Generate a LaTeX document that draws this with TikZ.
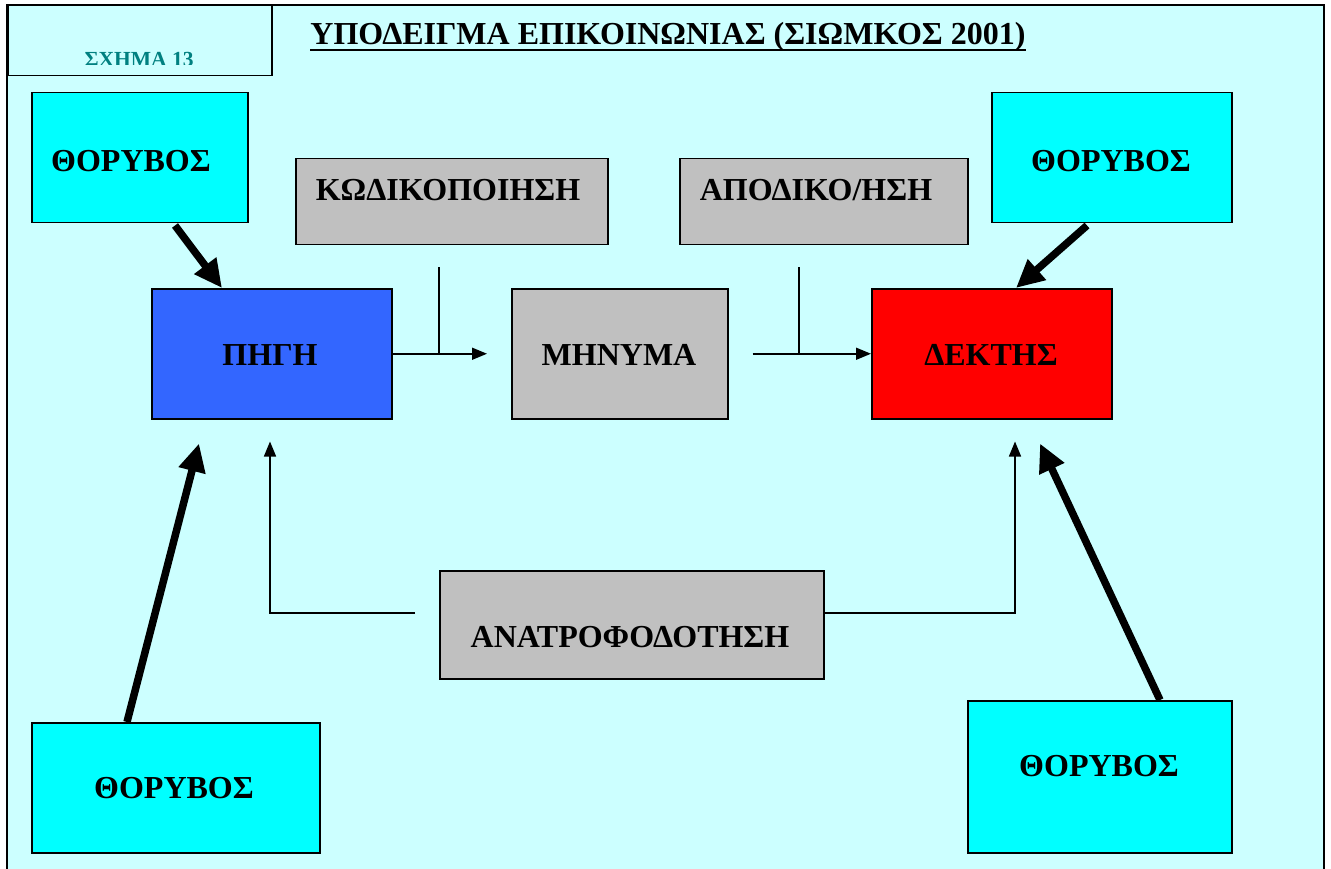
\documentclass[tikz,border=0pt]{standalone}
\usepackage{fontspec}
\setmainfont{Liberation Serif}
\usetikzlibrary{arrows.meta}
\definecolor{panel}{HTML}{CCFFFF}
\definecolor{noise}{HTML}{00FFFF}
\definecolor{source}{HTML}{3366FF}
\definecolor{neutral}{HTML}{C0C0C0}
\definecolor{receiver}{HTML}{FF0000}
\definecolor{tagtext}{HTML}{008080}
\begin{document}
\begin{tikzpicture}[x=1pt,y=-1pt,
  box/.style={draw=black, line width=1.5pt, rectangle, inner sep=0pt, anchor=north west},
  lbl/.style={font=\bfseries\fontsize{32}{34}\selectfont, inner sep=0pt},
  thinline/.style={line width=1.5pt},
  thinarrow/.style={line width=1.5pt, -{Triangle[length=15pt,width=12pt]}},
  thickarrow/.style={line width=7.5pt, -{Triangle[length=28pt,width=26pt]}}]
\useasboundingbox (0,0) rectangle (1331,869);
% panel
\fill[panel] (7,5) rectangle (1324,869);
\draw[line width=1.5pt] (7,869) -- (7,5) -- (1324,5) -- (1324,869);
% figure tag
\node[box, fill=panel, minimum width=264pt, minimum height=70pt] (tag) at (7,5) {};
\begin{scope}
  \clip (7,5) rectangle (271,64.5);
  \node[font=\bfseries\fontsize{21.5}{23}\selectfont, text=tagtext, inner sep=0pt, anchor=base] (tagtxt) at (139,67) {ΣΧΗΜΑ 13};
\end{scope}
% title
\node[lbl, anchor=base] (title) at (668,45) {ΥΠΟΔΕΙΓΜΑ ΕΠΙΚΟΙΝΩΝΙΑΣ (ΣΙΩΜΚΟΣ 2001)};
\draw[line width=2pt] ([yshift=-5pt]title.base west) -- ([yshift=-5pt]title.base east);
% boxes
\node[box, fill=noise, minimum width=216pt, minimum height=130pt] (ntl) at (31,92) {};
\node[box, fill=noise, minimum width=240pt, minimum height=130pt] (ntr) at (991,92) {};
\node[box, fill=noise, minimum width=288pt, minimum height=130pt] (nbl) at (31,722) {};
\node[box, fill=noise, minimum width=264pt, minimum height=152pt] (nbr) at (967,700) {};
\node[box, fill=neutral, minimum width=312pt, minimum height=86pt] (enc) at (295,158) {};
\node[box, fill=neutral, minimum width=288pt, minimum height=86pt] (dec) at (679,158) {};
\node[box, fill=source, minimum width=240pt, minimum height=130pt] (src) at (151,288) {};
\node[box, fill=neutral, minimum width=216pt, minimum height=130pt] (msg) at (511,288) {};
\node[box, fill=receiver, minimum width=240pt, minimum height=130pt] (dst) at (871,288) {};
\node[box, fill=neutral, minimum width=384pt, minimum height=108pt] (fb) at (439,570) {};
% labels
\node[lbl] at (131,161) {ΘΟΡΥΒΟΣ};
\node[lbl] at (1111,161) {ΘΟΡΥΒΟΣ};
\node[lbl] at (174,788) {ΘΟΡΥΒΟΣ};
\node[lbl] at (1099,766) {ΘΟΡΥΒΟΣ};
\node[lbl] at (448,190) {ΚΩΔΙΚΟΠΟΙΗΣΗ};
\node[lbl] at (816,190) {ΑΠΟΔΙΚΟ/ΗΣΗ};
\node[lbl] at (270,355) {ΠΗΓΗ};
\node[lbl] at (619,355) {ΜΗΝΥΜΑ};
\node[lbl] at (991,355) {ΔΕΚΤΗΣ};
\node[lbl] at (630,637) {ΑΝΑΤΡΟΦΟΔΟΤΗΣΗ};
% message flow
\draw[thinline] ([xshift=144pt,yshift=-22pt]enc.south west) coordinate (j1) -- (j1 |- src.east);
\draw[thinarrow] (src.east) -- ([xshift=-24pt]msg.west);
\draw[thinline] ([xshift=120pt,yshift=-22pt]dec.south west) coordinate (j2) -- (j2 |- msg.east);
\draw[thinarrow] ([xshift=24pt]msg.east) -- (dst.west);
% feedback
\draw[thinarrow] ([xshift=-24pt,yshift=-43pt]fb.north west) -| ([xshift=119pt,yshift=-22pt]src.south west);
\draw[thinarrow] ([yshift=-43pt]fb.north east) -| ([xshift=144pt,yshift=-22pt]dst.south west);
% noise
\draw[thickarrow] ([xshift=144pt,yshift=-2pt]ntl.south west) -- ([xshift=71pt]src.north west);
\draw[thickarrow] ([xshift=96pt,yshift=-2pt]ntr.south west) -- ([xshift=145pt]dst.north west);
\draw[thickarrow] ([xshift=96pt]nbl.north west) -- ([xshift=48pt,yshift=-24pt]src.south west);
\draw[thickarrow] ([xshift=193pt]nbr.north west) -- ([xshift=169pt,yshift=-24pt]dst.south west);
\end{tikzpicture}
\end{document}
